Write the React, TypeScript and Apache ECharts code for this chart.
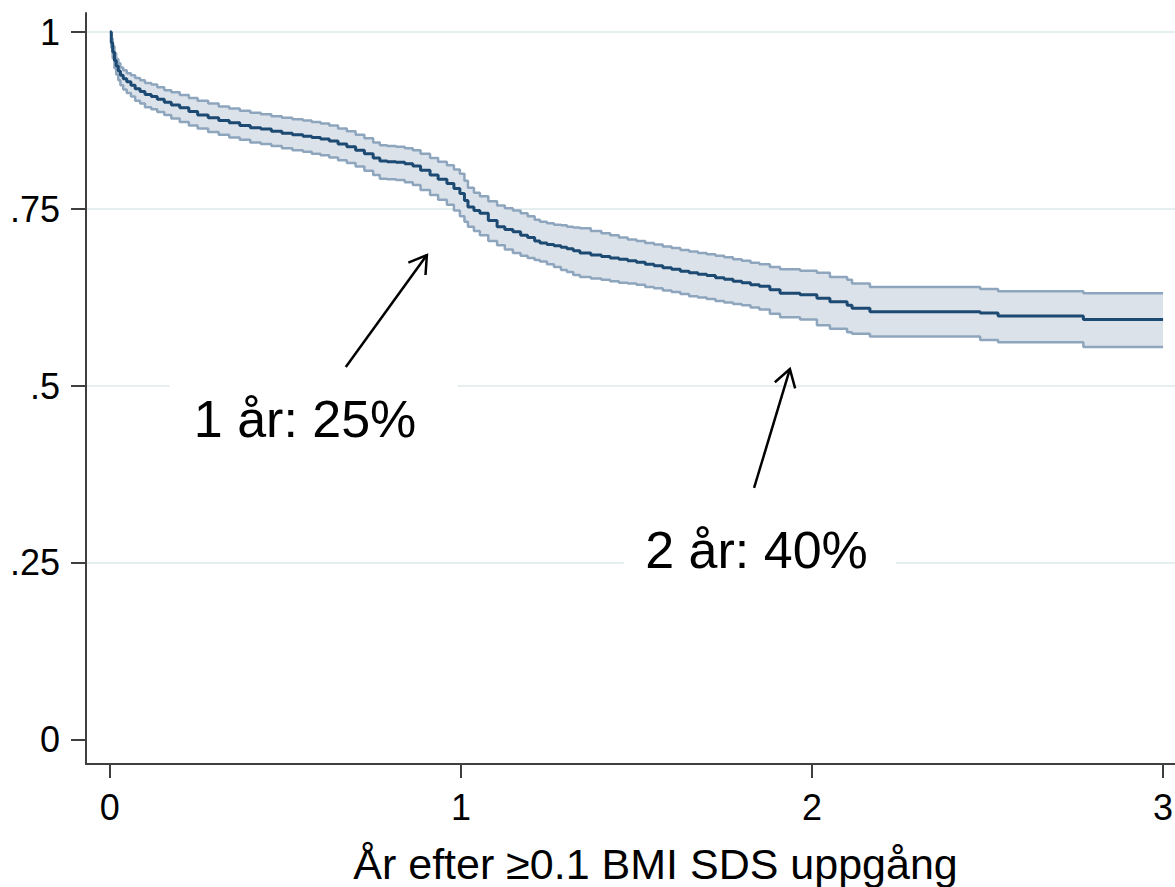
import React, { useEffect, useRef } from "react";
import * as echarts from "echarts";

// Kaplan-Meier estimate with 95% CI
const times = [
  0.0, 0.004, 0.008, 0.013, 0.018, 0.024, 0.03, 0.038, 0.048, 0.06, 0.072, 0.086,
  0.1, 0.118, 0.135, 0.155, 0.175, 0.199, 0.225, 0.25, 0.28, 0.31, 0.34, 0.37,
  0.4, 0.43, 0.46, 0.49, 0.52, 0.55, 0.575, 0.6, 0.625, 0.65, 0.675, 0.7, 0.725, 0.75,
  0.769, 0.79, 0.815, 0.84, 0.863, 0.885, 0.912, 0.935, 0.96, 0.98, 0.997, 1.01, 1.02,
  1.037, 1.054, 1.078, 1.103, 1.125, 1.148, 1.17, 1.19, 1.21, 1.225, 1.245, 1.265,
  1.285, 1.302, 1.32, 1.339, 1.37, 1.4, 1.425, 1.45, 1.475, 1.5, 1.525, 1.55, 1.575,
  1.6, 1.625, 1.65, 1.675, 1.7, 1.725, 1.75, 1.775, 1.8, 1.825, 1.85, 1.88, 1.909,
  1.966, 2.014, 2.051, 2.1, 2.114, 2.165, 2.479, 2.53, 2.773, 3.0,
];
const survival = [
  1.0, 0.985, 0.972, 0.96, 0.952, 0.945, 0.939, 0.934, 0.93, 0.925, 0.92, 0.916,
  0.912, 0.909, 0.905, 0.901, 0.897, 0.893, 0.888, 0.883, 0.879, 0.875, 0.872, 0.868,
  0.865, 0.863, 0.86, 0.857, 0.855, 0.853, 0.851, 0.849, 0.846, 0.842, 0.838, 0.833, 0.828, 0.822,
  0.818, 0.817, 0.816, 0.814, 0.811, 0.805, 0.798, 0.792, 0.786, 0.779, 0.772, 0.762, 0.753,
  0.748, 0.744, 0.734, 0.725, 0.721, 0.718, 0.713, 0.71, 0.705, 0.702, 0.7, 0.698,
  0.696, 0.694, 0.691, 0.688, 0.685, 0.683, 0.681, 0.679, 0.677, 0.675, 0.672, 0.67, 0.667,
  0.665, 0.662, 0.66, 0.658, 0.656, 0.653, 0.651, 0.648, 0.646, 0.643, 0.641, 0.636, 0.631,
  0.629, 0.624, 0.619, 0.614, 0.61, 0.605, 0.603, 0.599, 0.594, 0.594,
];
const lowerCI = [
  1.0, 0.978, 0.963, 0.949, 0.94, 0.932, 0.925, 0.919, 0.914, 0.909, 0.903, 0.899,
  0.894, 0.891, 0.887, 0.883, 0.878, 0.873, 0.868, 0.864, 0.859, 0.855, 0.851, 0.848,
  0.844, 0.842, 0.839, 0.836, 0.833, 0.831, 0.828, 0.826, 0.823, 0.819, 0.815, 0.81, 0.804, 0.798,
  0.793, 0.792, 0.791, 0.788, 0.784, 0.777, 0.77, 0.763, 0.756, 0.748, 0.74, 0.732, 0.725,
  0.719, 0.713, 0.705, 0.699, 0.693, 0.688, 0.684, 0.681, 0.678, 0.676, 0.672, 0.668,
  0.664, 0.661, 0.657, 0.654, 0.652, 0.65, 0.648, 0.646, 0.645, 0.643, 0.64, 0.638, 0.635,
  0.633, 0.63, 0.627, 0.625, 0.623, 0.62, 0.618, 0.616, 0.614, 0.611, 0.608, 0.602, 0.597,
  0.594, 0.586, 0.581, 0.576, 0.574, 0.57, 0.565, 0.562, 0.555, 0.555,
];
const upperCI = [
  1.0, 0.991, 0.98, 0.97, 0.962, 0.956, 0.95, 0.946, 0.942, 0.939, 0.935, 0.932,
  0.928, 0.926, 0.922, 0.918, 0.915, 0.911, 0.907, 0.903, 0.899, 0.895, 0.892, 0.889,
  0.886, 0.884, 0.881, 0.879, 0.877, 0.875, 0.873, 0.871, 0.868, 0.864, 0.86, 0.855, 0.85, 0.844,
  0.84, 0.839, 0.838, 0.836, 0.833, 0.828, 0.822, 0.817, 0.812, 0.806, 0.8, 0.79, 0.78,
  0.773, 0.768, 0.761, 0.755, 0.751, 0.748, 0.744, 0.74, 0.735, 0.732, 0.73, 0.728,
  0.727, 0.725, 0.724, 0.723, 0.719, 0.716, 0.713, 0.71, 0.707, 0.705, 0.702, 0.7, 0.697,
  0.695, 0.692, 0.69, 0.688, 0.686, 0.684, 0.682, 0.679, 0.677, 0.674, 0.672, 0.668, 0.665,
  0.663, 0.66, 0.654, 0.65, 0.645, 0.64, 0.637, 0.634, 0.631, 0.631,
];

const yTicks = [0, 0.25, 0.5, 0.75, 1];
const yGridValues = [0.25, 0.5, 0.75, 1];
const xTicks = [0, 1, 2, 3];
const xTitle = "År efter ≥0.1 BMI SDS uppgång";

// annotations in data coordinates
const noteTexts = ["1 år: 25%", "2 år: 40%"];
const noteAnchors = [[0.556, 0.453], [1.842, 0.268]];
const arrowTails = [[0.672, 0.527], [1.835, 0.356]];
const arrowTips = [[0.903, 0.685], [1.937, 0.524]];
const gapLevels = [0.5, 0.25];
const gapRanges = [[0.171, 0.991], [1.464, 2.239]];

const FONT = "'Liberation Sans', Arial, Helvetica, sans-serif";

export default function App() {
  const ref = useRef<HTMLDivElement>(null);

  useEffect(() => {
    document.body.style.margin = "0";
    const chart = echarts.init(ref.current!, null, { renderer: "svg" });
    const pairs = (arr: number[]) => times.map((t, i) => [t, arr[i]]);
    const axisColor = "#3f3f3f";

    chart.setOption({
      animation: false,
      backgroundColor: "#ffffff",
      grid: { left: 86, right: 0, top: 13, bottom: 123, containLabel: false, outerBoundsMode: "none" },
      xAxis: {
        type: "value",
        min: -0.068,
        max: 3.034,
        axisLine: { onZero: false, lineStyle: { color: axisColor, width: 2 } },
        axisTick: { customValues: xTicks, length: 14, lineStyle: { color: axisColor, width: 2 } },
        axisLabel: {
          customValues: xTicks,
          margin: 25,
          fontSize: 36,
          color: "#000",
          fontFamily: FONT,
          formatter: (v: number) => String(v),
        },
        splitLine: { show: false },
        name: xTitle,
        nameLocation: "middle",
        nameGap: 78,
        nameMoveOverlap: false,
        nameTextStyle: { fontSize: 43, color: "#000", fontFamily: FONT, padding: [0, 0, 0, 50] },
      },
      yAxis: [
        {
          type: "value",
          min: -0.034,
          max: 1.027,
          position: "left",
          axisLine: { show: true, onZero: false, lineStyle: { color: axisColor, width: 2 } },
          axisTick: { show: true, customValues: yTicks, length: 15, lineStyle: { color: axisColor, width: 2 } },
          axisLabel: {
            customValues: yTicks,
            margin: 26,
            fontSize: 36,
            color: "#000",
            fontFamily: FONT,
            formatter: (v: number) => (v === 0 ? "0" : v === 1 ? "1" : String(v).replace(/^0\./, ".")),
          },
          splitLine: { show: false },
        },
        {
          type: "value",
          min: -0.034,
          max: 1.027,
          position: "left",
          axisLine: { show: false, onZero: false },
          axisTick: { show: false, customValues: yGridValues },
          axisLabel: { show: false, customValues: yGridValues },
          splitLine: { show: true, lineStyle: { color: "#e5eff0", width: 2 } },
        },
      ],
      series: [
        {
          type: "custom",
          z: 1,
          silent: true,
          data: pairs(survival),
          encode: { x: 0, y: 1 },
          renderItem: (params: any, api: any) => {
            if (params.dataIndex !== 0) return null;
            const n = times.length;
            const pts: number[][] = [];
            for (let i = 0; i < n; i++) {
              pts.push(api.coord([times[i], upperCI[i]]));
              if (i < n - 1) pts.push(api.coord([times[i + 1], upperCI[i]]));
            }
            for (let i = n - 1; i >= 0; i--) {
              if (i < n - 1) pts.push(api.coord([times[i + 1], lowerCI[i]]));
              pts.push(api.coord([times[i], lowerCI[i]]));
            }
            return { type: "polygon", shape: { points: pts }, style: { fill: "#dce2ea", stroke: null } };
          },
        },
        {
          type: "line",
          z: 2,
          step: "end",
          symbol: "none",
          silent: true,
          data: pairs(upperCI),
          lineStyle: { color: "#8ea6bd", width: 2.5 },
        },
        {
          type: "line",
          z: 2,
          step: "end",
          symbol: "none",
          silent: true,
          data: pairs(lowerCI),
          lineStyle: { color: "#8ea6bd", width: 2.5 },
        },
        {
          type: "line",
          z: 3,
          step: "end",
          symbol: "none",
          silent: true,
          data: pairs(survival),
          lineStyle: { color: "#1c4a72", width: 3 },
        },
      ],
    });

    const px = (p: number[]) => chart.convertToPixel({ seriesIndex: 3 }, p) as number[];
    const elements: any[] = [];
    noteTexts.forEach((txt, i) => {
      const gy = px([0, gapLevels[i]])[1];
      const gx1 = px([gapRanges[i][0], 0])[0];
      const gx2 = px([gapRanges[i][1], 0])[0];
      elements.push({
        type: "rect",
        z: 50,
        silent: true,
        shape: { x: gx1, y: gy - 5, width: gx2 - gx1, height: 10 },
        style: { fill: "#ffffff" },
      });
      const a = px(noteAnchors[i]);
      elements.push({
        type: "text",
        z: 100,
        x: a[0],
        y: a[1],
        style: { text: txt, fontSize: 52, fontFamily: FONT, fill: "#000", align: "center", verticalAlign: "middle" },
      });
      const tail = px(arrowTails[i]);
      const tip = px(arrowTips[i]);
      elements.push({
        type: "line",
        z: 100,
        shape: { x1: tail[0], y1: tail[1], x2: tip[0], y2: tip[1] },
        style: { stroke: "#000", lineWidth: 2.5 },
      });
      const ang = Math.atan2(tail[1] - tip[1], tail[0] - tip[0]);
      const L = 20;
      const h = (32 * Math.PI) / 180;
      const p1 = [tip[0] + L * Math.cos(ang + h), tip[1] + L * Math.sin(ang + h)];
      const p2 = [tip[0] + L * Math.cos(ang - h), tip[1] + L * Math.sin(ang - h)];
      elements.push({
        type: "polyline",
        z: 100,
        shape: { points: [p1, tip, p2] },
        style: { stroke: "#000", lineWidth: 2.5, fill: null },
      });
    });
    chart.setOption({ graphic: { elements } });

    return () => chart.dispose();
  }, []);

  return <div ref={ref} style={{ width: 1175, height: 887 }} />;
}
